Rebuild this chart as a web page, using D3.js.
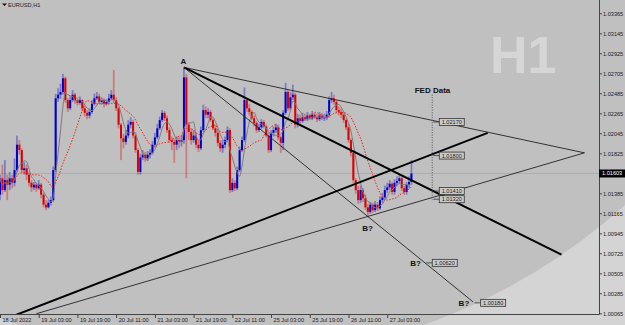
<!DOCTYPE html>
<html>
<head>
<meta charset="utf-8">
<script src="https://cdn.jsdelivr.net/npm/d3@7"></script>
<style>
body { margin: 0; background: #c0c0c0; }
svg { display: block; }
</style>
</head>
<body>
<svg id="chart" width="625" height="325"></svg>
<script>
// EURUSD H1, 18 Jul 2022 11:00 .. 27 Jul 2022 13:00 (one value per hourly bar)
var firstOpen = 1.0137;
var closes = [
 1.0155,1.0142,1.0153,1.0148,1.0155,1.0150,1.0164,1.0192,1.0186,1.0164,
 1.0166,1.0159,1.0150,1.0145,1.0148,1.0144,1.0148,1.0137,1.0126,1.0123,
 1.0128,1.0131,1.0164,1.0243,1.0247,1.0250,1.0265,1.0241,1.0232,1.0241,
 1.0247,1.0241,1.0238,1.0241,1.0232,1.0227,1.0224,1.0228,1.0237,1.0243,
 1.0245,1.0239,1.0241,1.0237,1.0239,1.0243,1.0247,1.0241,1.0232,1.0214,
 1.0199,1.0195,1.0202,1.0214,1.0217,1.0202,1.0186,1.0162,1.0178,1.0181,
 1.0177,1.0181,1.0183,1.0192,1.0200,1.0210,1.0219,1.0227,1.0221,1.0208,
 1.0197,1.0195,1.0192,1.0197,1.0195,1.0197,1.0266,1.0214,1.0206,1.0197,
 1.0202,1.0192,1.0188,1.0208,1.0230,1.0225,1.0228,1.0219,1.0210,1.0205,
 1.0194,1.0188,1.0192,1.0197,1.0208,1.0142,1.0150,1.0144,1.0164,1.0186,
 1.0197,1.0241,1.0232,1.0228,1.0221,1.0216,1.0208,1.0211,1.0217,1.0212,
 1.0202,1.0186,1.0205,1.0208,1.0211,1.0200,1.0194,1.0227,1.0250,1.0232,
 1.0244,1.0247,1.0214,1.0221,1.0218,1.0222,1.0220,1.0224,1.0221,1.0225,
 1.0222,1.0220,1.0224,1.0221,1.0222,1.0225,1.0241,1.0243,1.0239,1.0230,
 1.0228,1.0225,1.0219,1.0211,1.0197,1.0183,1.0153,1.0142,1.0131,1.0142,
 1.0133,1.0123,1.0118,1.0126,1.0120,1.0126,1.0122,1.0131,1.0134,1.0142,
 1.0145,1.0149,1.0140,1.0150,1.0152,1.0155,1.0144,1.0140,1.0148,1.0151,
 1.01603];
var highs = [
 1.0159,1.0170,1.0175,1.0159,1.0162,1.0159,1.0177,1.0202,1.0197,1.0188,
 1.0173,1.0170,1.0162,1.0153,1.0151,1.0150,1.0153,1.0150,1.0139,1.0131,
 1.0131,1.0135,1.0168,1.0248,1.0254,1.0259,1.0270,1.0267,1.0243,1.0245,
 1.0252,1.0249,1.0244,1.0245,1.0242,1.0235,1.0230,1.0232,1.0241,1.0248,
 1.0250,1.0248,1.0244,1.0243,1.0242,1.0248,1.0252,1.0274,1.0244,1.0234,
 1.0216,1.0204,1.0208,1.0219,1.0222,1.0219,1.0206,1.0188,1.0182,1.0186,
 1.0184,1.0185,1.0187,1.0196,1.0205,1.0215,1.0223,1.0230,1.0229,1.0224,
 1.0211,1.0201,1.0199,1.0201,1.0200,1.0202,1.0277,1.0270,1.0217,1.0210,
 1.0208,1.0205,1.0197,1.0212,1.0236,1.0234,1.0232,1.0230,1.0221,1.0214,
 1.0208,1.0197,1.0197,1.0201,1.0212,1.0210,1.0155,1.0153,1.0168,1.0190,
 1.0201,1.0255,1.0243,1.0237,1.0230,1.0224,1.0218,1.0215,1.0220,1.0219,
 1.0214,1.0205,1.0208,1.0212,1.0215,1.0214,1.0202,1.0230,1.0260,1.0252,
 1.0250,1.0258,1.0249,1.0226,1.0225,1.0227,1.0226,1.0228,1.0226,1.0229,
 1.0227,1.0226,1.0228,1.0227,1.0226,1.0229,1.0245,1.0250,1.0247,1.0241,
 1.0234,1.0232,1.0228,1.0221,1.0214,1.0199,1.0186,1.0155,1.0147,1.0147,
 1.0144,1.0137,1.0127,1.0129,1.0128,1.0130,1.0129,1.0135,1.0139,1.0147,
 1.0150,1.0153,1.0151,1.0154,1.0157,1.0159,1.0157,1.0147,1.0151,1.0157,
 1.0175];
var lows = [
 1.0131,1.0137,1.0140,1.0131,1.0142,1.0144,1.0146,1.0162,1.0181,1.0161,
 1.0159,1.0153,1.0146,1.0140,1.0142,1.0140,1.0142,1.0133,1.0123,1.0120,
 1.0122,1.0125,1.0129,1.0162,1.0239,1.0242,1.0247,1.0238,1.0228,1.0230,
 1.0239,1.0237,1.0235,1.0236,1.0229,1.0223,1.0220,1.0221,1.0226,1.0235,
 1.0241,1.0237,1.0236,1.0233,1.0235,1.0237,1.0241,1.0238,1.0229,1.0210,
 1.0175,1.0188,1.0192,1.0199,1.0210,1.0199,1.0183,1.0159,1.0159,1.0175,
 1.0173,1.0174,1.0177,1.0181,1.0189,1.0198,1.0208,1.0217,1.0218,1.0205,
 1.0194,1.0186,1.0172,1.0186,1.0188,1.0190,1.0193,1.0155,1.0197,1.0192,
 1.0194,1.0188,1.0184,1.0186,1.0206,1.0221,1.0221,1.0217,1.0208,1.0201,
 1.0190,1.0184,1.0183,1.0188,1.0195,1.0139,1.0140,1.0141,1.0142,1.0162,
 1.0184,1.0195,1.0228,1.0224,1.0219,1.0212,1.0205,1.0206,1.0209,1.0210,
 1.0200,1.0183,1.0184,1.0201,1.0205,1.0197,1.0183,1.0186,1.0225,1.0229,
 1.0230,1.0241,1.0210,1.0211,1.0215,1.0216,1.0218,1.0218,1.0219,1.0219,
 1.0220,1.0217,1.0218,1.0219,1.0218,1.0219,1.0222,1.0238,1.0236,1.0227,
 1.0224,1.0221,1.0216,1.0208,1.0194,1.0179,1.0150,1.0138,1.0127,1.0128,
 1.0129,1.0120,1.0112,1.0116,1.0117,1.0118,1.0119,1.0120,1.0128,1.0132,
 1.0139,1.0142,1.0137,1.0137,1.0146,1.0149,1.0141,1.0137,1.0137,1.0144,
 1.0148];
var lastPrice = 1.01603;

var priceTicks = [1.00065,1.00285,1.00505,1.00725,1.00945,1.01165,1.01385,1.01605,
                  1.01825,1.02045,1.02265,1.02485,1.02705,1.02925,1.03145,1.03365];
var timeBars = [0,16,32,48,64,80,96,112,128,144,160];
var timeLabels = ["18 Jul 2022","19 Jul 03:00","19 Jul 19:00","20 Jul 11:00","21 Jul 03:00",
                  "21 Jul 19:00","22 Jul 11:00","25 Jul 03:00","25 Jul 19:00","26 Jul 11:00","27 Jul 03:00"];

// trend lines as [bar, price] pairs
var trendStart = [[76,1.0277],[76,1.0277],[76,1.0277],[2,1.0000],[15,1.0006]];
var trendEnd   = [[241.5,1.0183],[232,1.0071],[195.5,1.0019],[201.5,1.0205],[241.5,1.0183]];
var trendThick = [false,true,false,true,false];

// price labels placed on the chart
var levelPrices = [1.0217,1.0180,1.0141,1.0132,1.0062,1.0018];
var levelBars   = [181.5,181.5,181.5,181.5,178.6,198.6];

var noteText   = ["A","B?","B?","B?","FED Data"];
var noteBars   = [75.8,151.9,171.7,191.7,178.7];
var notePrices = [1.0281,1.0097,1.0058,1.0015,1.0249];

var fedBar = 178.6, fedTop = 1.0247, fedBottom = 1.0131;

drawchart();

function drawchart(){
    var W = 625, H = 325, pw = 599, ph = 314;
    var font = "'Liberation Sans', Arial, sans-serif";
    var svg = d3.select("#chart");

    var x = d3.scaleLinear().domain([0, 247.5]).range([0, pw]);
    var y = d3.scaleLinear().domain([1.00065, 1.03365]).range([313.3, 13.3]);
    var fmt = d3.format(".5f");

    // background with the lighter corner
    svg.append("rect").attr("width", W).attr("height", H).attr("fill", "#d4d4d4");
    svg.append("circle").attr("cx", 221).attr("cy", -244).attr("r", 604).attr("fill", "#c0c0c0");

    svg.append("defs").append("clipPath").attr("id", "plot")
        .append("rect").attr("width", pw).attr("height", ph);

    // watermark
    svg.append("text").text("H1")
        .attr("x", 490).attr("y", 73)
        .attr("font-family", font).attr("font-weight", "bold")
        .attr("font-size", "52px").attr("fill", "#d6d6d6");

    var plot = svg.append("g").attr("clip-path", "url(#plot)");

    // current price line
    plot.append("line")
        .attr("x1", 0).attr("x2", pw)
        .attr("y1", y(lastPrice)).attr("y2", y(lastPrice))
        .attr("stroke", "#adadad").attr("stroke-width", 1);

    var bars = closes.map(function(c, i) {
        return {i: i, o: i == 0 ? firstOpen : closes[i-1], h: highs[i], l: lows[i], c: c};
    });
    function col(d) { return d.c >= d.o ? "#0000cc" : "#dd0000"; }

    // wicks
    plot.selectAll("rect.wick").data(bars).enter().append("rect")
        .attr("class", "wick")
        .attr("x", function(d) { return x(d.i) - 0.9; })
        .attr("y", function(d) { return y(d.h); })
        .attr("width", 1.8)
        .attr("height", function(d) { return y(d.l) - y(d.h); })
        .attr("fill", col).attr("opacity", 0.35);

    // bodies
    plot.selectAll("rect.body").data(bars).enter().append("rect")
        .attr("class", "body")
        .attr("x", function(d) { return x(d.i) - 1; })
        .attr("y", function(d) { return y(Math.max(d.o, d.c)); })
        .attr("width", 2)
        .attr("height", function(d) { return Math.max(1, Math.abs(y(d.o) - y(d.c))); })
        .attr("fill", col);

    // moving averages
    function sma(p) {
        return closes.map(function(c, i) {
            return d3.mean(closes.slice(Math.max(0, i - p + 1), i + 1));
        });
    }
    var line = d3.line()
        .x(function(d, i) { return x(i); })
        .y(function(d) { return y(d); })
        .curve(d3.curveMonotoneX);
    plot.append("path").attr("d", line(sma(14)))
        .attr("fill", "none").attr("stroke", "#ff1a1a")
        .attr("stroke-width", 1).attr("stroke-dasharray", "1.5,1.5");
    plot.append("path").attr("d", line(sma(5)))
        .attr("fill", "none").attr("stroke", "#7c7c7c").attr("stroke-width", 1);

    // trend lines
    for (var k = 0; k < trendStart.length; k++) {
        plot.append("line")
            .attr("x1", x(trendStart[k][0])).attr("y1", y(trendStart[k][1]))
            .attr("x2", x(trendEnd[k][0])).attr("y2", y(trendEnd[k][1]))
            .attr("stroke", trendThick[k] ? "#000" : "#222")
            .attr("stroke-width", trendThick[k] ? 2 : 0.9);
    }

    // FED Data marker
    plot.append("line")
        .attr("x1", x(fedBar)).attr("x2", x(fedBar))
        .attr("y1", y(fedTop)).attr("y2", y(fedBottom))
        .attr("stroke", "#555").attr("stroke-width", 1)
        .attr("stroke-dasharray", "1,1.5");

    // price level boxes
    var lv = plot.selectAll("g.level").data(levelPrices).enter().append("g")
        .attr("class", "level")
        .attr("transform", function(d, i) {
            return "translate(" + x(levelBars[i]) + "," + y(d) + ")";
        });
    lv.append("line").attr("x1", -6).attr("x2", 0).attr("y1", 0).attr("y2", 0)
        .attr("stroke", "#333").attr("stroke-width", 0.8);
    lv.append("rect").attr("x", 0).attr("y", -3.5).attr("width", 25).attr("height", 7)
        .attr("fill", "#cacaca").attr("stroke", "#333").attr("stroke-width", 0.8);
    lv.append("text").text(function(d) { return fmt(d); })
        .attr("x", 12.5).attr("y", 2)
        .attr("text-anchor", "middle")
        .attr("font-family", font).attr("font-size", "5.6px").attr("fill", "#222");

    // notes
    plot.selectAll("text.note").data(noteText).enter().append("text")
        .attr("class", "note")
        .text(function(d) { return d; })
        .attr("x", function(d, i) { return x(noteBars[i]); })
        .attr("y", function(d, i) { return y(notePrices[i]); })
        .attr("text-anchor", "middle")
        .attr("font-family", font).attr("font-weight", "bold")
        .attr("font-size", "8px").attr("fill", "#111");

    // price axis
    var ay = svg.append("g").attr("transform", "translate(" + pw + ",0)")
        .call(d3.axisRight(y).tickValues(priceTicks).tickSize(3).tickPadding(1).tickFormat(fmt));
    ay.select(".domain").remove();
    ay.selectAll("line").attr("stroke", "#444");
    ay.selectAll("text").attr("font-family", font).attr("font-size", "5.6px").attr("fill", "#222");

    // time axis
    var ax = svg.append("g").attr("transform", "translate(0," + ph + ")")
        .call(d3.axisBottom(x).tickValues(timeBars).tickSize(4).tickPadding(0)
            .tickFormat(function(d, i) { return timeLabels[i]; }));
    ax.select(".domain").remove();
    ax.selectAll("line").attr("stroke", "#444");
    ax.selectAll("text").attr("text-anchor", "start").attr("dx", 2)
        .attr("font-family", font).attr("font-size", "5.6px").attr("fill", "#222");

    svg.append("line").attr("x1", pw + 0.5).attr("x2", pw + 0.5).attr("y1", 0).attr("y2", ph + 0.5)
        .attr("stroke", "#444");
    svg.append("line").attr("x1", 0).attr("x2", pw + 0.5).attr("y1", ph + 0.5).attr("y2", ph + 0.5)
        .attr("stroke", "#444");

    // last price tag
    svg.append("rect").attr("x", pw).attr("y", y(lastPrice) - 4).attr("width", 26).attr("height", 8)
        .attr("fill", "#000");
    svg.append("text").text(fmt(lastPrice))
        .attr("x", pw + 3).attr("y", y(lastPrice) + 2)
        .attr("font-family", font).attr("font-size", "5.6px").attr("fill", "#fff");

    // symbol title
    svg.append("path").attr("d", "M2,3.5L7,3.5L4.5,6Z").attr("fill", "#111");
    svg.append("text").text("EURUSD,H1")
        .attr("x", 8).attr("y", 7)
        .attr("font-family", font).attr("font-size", "5.6px").attr("fill", "#222");
}
</script>
</body>
</html>
